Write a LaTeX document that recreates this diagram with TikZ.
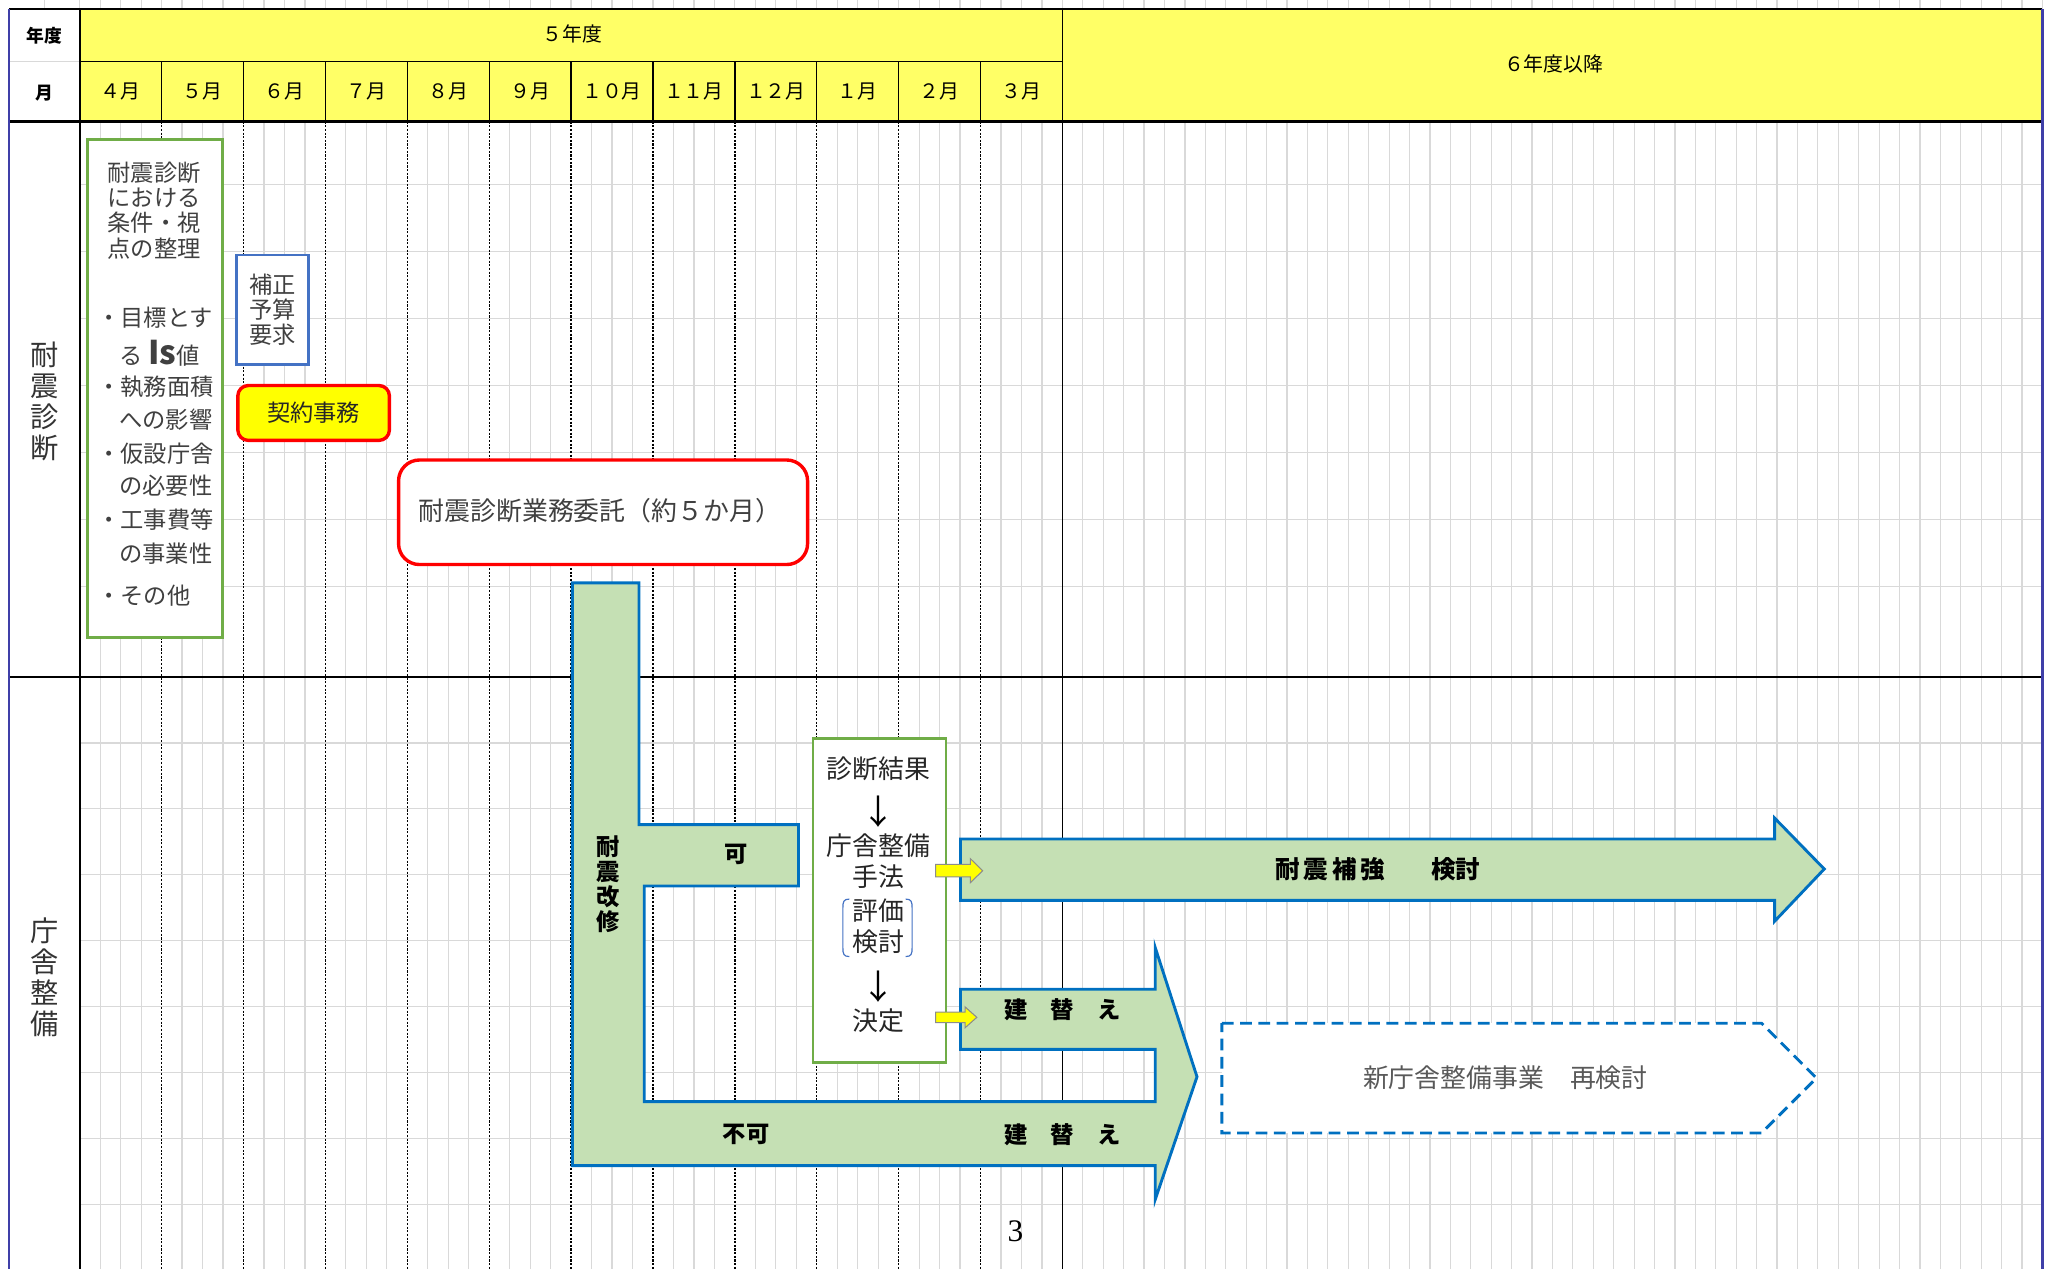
\documentclass[tikz,border=0pt]{standalone}
\usepackage{fontspec}
\setmainfont{Noto Sans CJK JP}
\newfontfamily\serifnum{Liberation Serif}
\usetikzlibrary{fit}
\definecolor{hdryellow}{HTML}{FFFF66}
\definecolor{boxyellow}{HTML}{FFFF00}
\definecolor{gridgray}{HTML}{D9D9D9}
\definecolor{arrowblue}{HTML}{0070C0}
\definecolor{arrowgreen}{HTML}{C5E0B4}
\definecolor{boxgreen}{HTML}{70AD47}
\definecolor{boxblue}{HTML}{4472C4}
\definecolor{txtgray}{HTML}{404040}
\definecolor{lightgray2}{HTML}{595959}
\definecolor{frameblue}{HTML}{3F3FA8}
\begin{document}
\begin{tikzpicture}[x=0.5pt,y=-0.5pt,
  gridline/.style={draw=gridgray,line width=0.45pt},
  monthline/.style={draw=black,line width=0.5pt,dash pattern=on 0.8pt off 0.6pt},
  hdr/.style={font=\fontsize{7.6}{9}\selectfont,inner sep=0pt},
  hdrb/.style={font=\fontsize{6.8}{8}\selectfont\bfseries,inner sep=0pt},
  rowlbl/.style={font=\fontsize{10.8}{11.85}\selectfont,align=center,inner sep=0pt,text=black!80},
  bodytxt/.style={font=\fontsize{8.9}{9.65}\selectfont,text=txtgray,inner sep=0pt},
  bigtxt/.style={font=\fontsize{9.9}{11}\selectfont,text=black!85,inner sep=0pt},
  arrtxt/.style={font=\fontsize{13}{13}\selectfont,text=black,inner sep=0pt},
  boldlbl/.style={font=\fontsize{8.9}{9.5}\selectfont\bfseries,inner sep=0pt,text=black},
  flow/.style={fill=arrowgreen,draw=arrowblue,line width=1.1pt,line join=miter},
  yarrow/.style={fill=boxyellow,draw=black!45,line width=0.4pt},
  frame/.style={inner sep=0pt,fill=white}
]
\useasboundingbox (0,0) rectangle (1568,971);
% ---------- grid ----------
\foreach \i in {0,...,48}{\draw[gridline] ({61+\i*15.667},0) -- ({61+\i*15.667},7);}
\foreach \j in {1,...,48}{\draw[gridline] ({813+\j*15.625},0) -- ({813+\j*15.625},7);}
\draw[gridline] (34,0) -- (34,7);
\foreach \i in {1,...,47}{
  \pgfmathtruncatemacro\r{mod(\i,4)}
  \ifnum\r=0\relax\else\draw[gridline] ({61+\i*15.667},93) -- ({61+\i*15.667},971);\fi}
\foreach \j in {1,...,47}{\draw[gridline] ({813+\j*15.625},93) -- ({813+\j*15.625},971);}
\foreach \k in {0,...,6}{\draw[gridline] (61,{141+\k*51.3}) -- (1563,{141+\k*51.3});}
\foreach \k in {1,...,8}{\draw[gridline] (61,{518+\k*50.5}) -- (1563,{518+\k*50.5});}
\foreach \m in {1,...,11}{\draw[monthline] ({61+\m*62.667},93) -- ({61+\m*62.667},971);}
% ---------- header ----------
\fill[hdryellow] (61,7) rectangle (1563,93);
\draw[gridline] (7,47) -- (61,47);
\draw[line width=0.5pt] (61,47) -- (813,47);
\foreach \m in {1,...,11}{\draw[line width=0.5pt] ({61+\m*62.667},47) -- ({61+\m*62.667},93);}
\draw[line width=0.5pt] (813,7) -- (813,971);
\draw[line width=0.9pt] (7,7) -- (1563,7);
\draw[line width=0.9pt] (7,93) -- (1563,93);
\draw[line width=0.7pt] (7,518) -- (1563,518);
\draw[line width=0.7pt] (61,7) -- (61,971);
\draw[frameblue,line width=0.8pt] (7,7) -- (7,971);
\draw[frameblue,line width=0.8pt] (1563,7) -- (1563,971);
\node[hdrb] (nendo) at (34,27) {年度};
\node[hdrb] (tsuki) at (34,71) {月};
\node[hdr] (y5) at (438,26) {５年度};
\node[hdr] (y6) at (1189,49) {６年度以降};
\foreach \lab [count=\n] in {４月,５月,６月,７月,８月,９月,１０月,１１月,１２月,１月,２月,３月}{
  \node[hdr] (m\n) at ({61+(\n-0.5)*62.667},70) {\lab};}
% ---------- row labels ----------
\node[rowlbl] (lbl1) at (34,307) {耐\\震\\診\\断};
\node[rowlbl] (lbl2) at (34,748) {庁\\舎\\整\\備};
% ---------- row 1 ----------
\node[frame,draw=boxgreen,line width=1.1pt,fit={(67,107) (170,488)}] (cond) {};
\node[bodytxt,align=center] (condtitle) at (118,161) {耐震診断\\における\\条件・視\\点の整理};
\node[bodytxt,anchor=west] (b1) at (74,243) {・目標とす};
\node[bodytxt,anchor=west] (b2) at (91,270) {る{\fontsize{12.5}{13}\selectfont\bfseries\,Is}値};
\node[bodytxt,anchor=west] (b3) at (74,296) {・執務面積};
\node[bodytxt,anchor=west] (b4) at (91,321) {への影響};
\node[bodytxt,anchor=west] (b5) at (74,347) {・仮設庁舎};
\node[bodytxt,anchor=west] (b6) at (91,372) {の必要性};
\node[bodytxt,anchor=west] (b7) at (74,398) {・工事費等};
\node[bodytxt,anchor=west] (b8) at (91,424) {の事業性};
\node[bodytxt,anchor=west] (b9) at (74,456) {・その他};
\node[frame,draw=boxblue,line width=1pt,fit={(181,195) (236,279)}] (hosei) {};
\node[bodytxt,align=center] at (hosei.center) (hoseitxt) {補正\\予算\\要求};
\node[frame,fill=boxyellow,draw=red,line width=1.3pt,rounded corners=4pt,fit={(182,295) (298,337)}] (keiyaku) {};
\node[bodytxt,text=black!85] at (keiyaku.center) (keiyakutxt) {契約事務};
\node[frame,draw=red,line width=1.3pt,rounded corners=8pt,fit={(305,352) (618,432)}] (itaku) {};
\node[bigtxt,text=txtgray] (itakutxt) at (459,391) {耐震診断業務委託（約５か月）};
% ---------- row 2 ----------
\draw[flow] (438,446) -- (489,446) -- (489,631) -- (611,631) -- (611,678) -- (493,678)
  -- (493,843) -- (884,843) -- (884,803) -- (735,803) -- (735,757) -- (884,757)
  -- (884,725) -- (916,824) -- (884,918) -- (884,892) -- (438,892) -- cycle;
\node[boldlbl,align=center] (kaishu) at (465,676.5) {耐\\震\\改\\修};
\node[boldlbl] (ka) at (563,654) {可};
\node[boldlbl] (fuka) at (571,868) {不可};
\node[boldlbl] (tatekae1) at (813,773) {建　替　え};
\node[boldlbl] (tatekae2) at (813,868) {建　替　え};
\draw[flow] (735,642) -- (1358,642) -- (1358,626) -- (1396,665) -- (1358,705) -- (1358,689) -- (735,689) -- cycle;
\node[boldlbl,font=\fontsize{9.4}{10}\selectfont\bfseries] (hokyo) at (1018,665) {耐\hspace{1.5pt}震\hspace{1.5pt}補\hspace{1.5pt}強};
\node[boldlbl,font=\fontsize{9.4}{10}\selectfont\bfseries] (kento) at (1114,665) {検討};
\node[frame,draw=boxgreen,line width=1pt,fit={(622,565) (724,813)}] (kekka) {};
\node[bigtxt] (s1) at (672,588) {診断結果};
\node[arrtxt] (s2) at (672,621) {↓};
\node[bigtxt] (s3) at (672,647) {庁舎整備};
\node[bigtxt] (s4) at (672,671) {手法};
\node[bigtxt] (s5) at (672,697) {評価};
\node[bigtxt] (s6) at (672,721) {検討};
\node[arrtxt] (s7) at (672,755) {↓};
\node[bigtxt] (s8) at (672,781) {決定};
\draw[boxblue,line width=0.45pt] (650,688) .. controls (645.5,688) and (645,690) .. (645,695) -- (645,725) .. controls (645,730) and (645.5,732) .. (650,732);
\draw[boxblue,line width=0.45pt] (693,688) .. controls (697.5,688) and (698,690) .. (698,695) -- (698,725) .. controls (698,730) and (697.5,732) .. (693,732);
\draw[yarrow] (716,661.5) -- (742.5,661.5) -- (742.5,657) -- (752,666.3) -- (742.5,675.5) -- (742.5,671) -- (716,671) -- cycle;
\draw[yarrow] (716,774.5) -- (738.5,774.5) -- (738.5,770.5) -- (747.5,778.5) -- (738.5,786.5) -- (738.5,782.5) -- (716,782.5) -- cycle;
\draw[fill=white,draw=arrowblue,line width=1.1pt,dash pattern=on 4.5pt off 2.5pt] (935,783) -- (1348,783) -- (1390,825) -- (1348,867) -- (935,867) -- cycle;
\node[bigtxt,text=lightgray2] (shin) at (1152,825) {新庁舎整備事業　再検討};
\node[font=\serifnum\fontsize{12}{13}\selectfont,inner sep=0pt] (pg) at (777,942) {3};
\end{tikzpicture}
\end{document}
